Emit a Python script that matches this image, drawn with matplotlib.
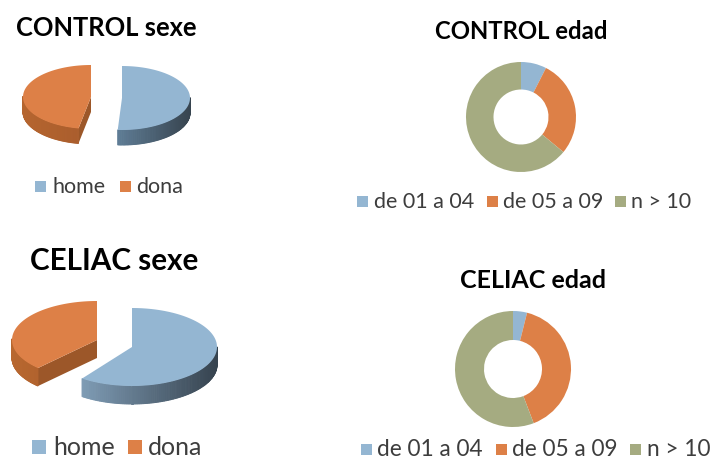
import numpy as np
import matplotlib
matplotlib.use("Agg")
import matplotlib.pyplot as plt
from matplotlib.colors import to_rgb
from matplotlib.patches import Rectangle

# shares in percent
sexe_labels = ["home", "dona"]
control_sexe = [51, 49]
celiac_sexe = [60, 40]

edad_labels = ["de 01 a 04", "de 05 a 09", "n > 10"]
control_edad = [7.5, 28.5, 64]
celiac_edad = [3.9, 40.3, 55.8]

BLUE = "#94b6d2"
ORANGE = "#dd8047"
GREEN = "#a5ab81"
H = 461

plt.rcParams["font.family"] = ["Lato", "DejaVu Sans"]

fig = plt.figure(figsize=(7.12, 4.61), dpi=100)
ax = fig.add_axes([0, 0, 1, 1])
ax.set_xlim(0, 712)
ax.set_ylim(0, H)
ax.set_axis_off()


def mix(a, b, t):
    a, b = np.array(to_rgb(a)), np.array(to_rgb(b))
    return tuple(a + (b - a) * t)


def slice3d(cx, cy, rx, ry, depth, a0, a1, top, light, dark, cut=None):
    # a0, a1 are clockwise degrees from twelve o'clock, cy in pixels from the top
    y0 = H - cy
    t = np.radians(np.linspace(a0, a1, 160))
    xs = cx + rx * np.sin(t)
    ys = y0 + ry * np.cos(t)

    # cut face from the rim end back to the centre
    if cut is not None:
        ax.fill([xs[0], cx, cx, xs[0]],
                [ys[0], y0, y0 - depth, ys[0] - depth],
                color=cut, lw=0, zorder=2)

    # side wall, only the front half of the rim shows
    for i in range(len(t) - 1):
        if np.cos(t[i]) > 0.02:
            continue
        f = np.clip((xs[i] - xs.min()) / (xs.max() - xs.min()), 0, 1)
        c = mix(light, dark, f)
        ax.fill([xs[i], xs[i + 1], xs[i + 1], xs[i]],
                [ys[i], ys[i + 1], ys[i + 1] - depth, ys[i] - depth],
                facecolor=c, edgecolor=c, lw=0.7, zorder=2)

    ax.fill(np.r_[cx, xs], np.r_[y0, ys], color=top, lw=0, zorder=3)


def pie3d(values, home_c, dona_c, rx, ry, depth, gap, home_shades, dona_shades):
    split = values[0] / sum(values) * 360
    slice3d(home_c[0], home_c[1], rx, ry, depth, 0, split, BLUE, *home_shades)
    slice3d(dona_c[0], dona_c[1], rx, ry, depth, split + gap, 360, ORANGE, *dona_shades,
            cut="#9c5729")


def donut(values, cx, cy, r):
    ax.pie(values, colors=[BLUE, ORANGE, GREEN], startangle=90, counterclock=False,
           center=(cx, H - cy), radius=r, frame=True,
           wedgeprops=dict(width=r / 2, linewidth=0))
    ax.set_xlim(0, 712)
    ax.set_ylim(0, H)
    ax.set_aspect("auto")
    ax.set_axis_off()


def legend(items, colors, y, size, sq):
    # items are (square x, text x, label)
    for (sx, tx, label), c in zip(items, colors):
        ax.add_patch(Rectangle((sx, H - y - sq / 2), sq, sq, color=c, lw=0))
        ax.text(tx, H - y, label, fontsize=size, color="#3d3d3d", ha="left", va="center")


def title(text, x0, y, size):
    ax.text(x0, H - y, text, fontsize=size, fontweight="bold", color="black",
            ha="left", va="center")


pie3d(control_sexe, (122, 98), (91, 97), 68, 32, 15, 7,
      ("#5f7d96", "#37444f"), ("#b5652f", "#a85c2c"))
pie3d(celiac_sexe, (132, 347), (97, 340), 85, 39, 18, 8,
      ("#7f9cb5", "#36434f"), ("#b8672f", "#a35a2b"))

donut(control_edad, 521, 117, 55)
donut(celiac_edad, 513, 369, 58)

title("CONTROL sexe", 16, 28, 18.4)
title("CELIAC sexe", 30, 261, 21.3)
title("CONTROL edad", 435, 32, 17.2)
title("CELIAC edad", 460, 281, 18)

legend([(35, 53, sexe_labels[0]), (120, 136, sexe_labels[1])], [BLUE, ORANGE], 187, 15.5, 11)
legend([(32, 53, sexe_labels[0]), (128, 148, sexe_labels[1])], [BLUE, ORANGE], 447, 18, 14)
legend([(357, 374, edad_labels[0]), (487, 503, edad_labels[1]), (615, 631, edad_labels[2])],
       [BLUE, ORANGE, GREEN], 202, 15.5, 11)
legend([(361, 377, edad_labels[0]), (496, 512, edad_labels[1]), (630, 647, edad_labels[2])],
       [BLUE, ORANGE, GREEN], 449, 16.3, 11)

fig.savefig("out.png", dpi=100)
